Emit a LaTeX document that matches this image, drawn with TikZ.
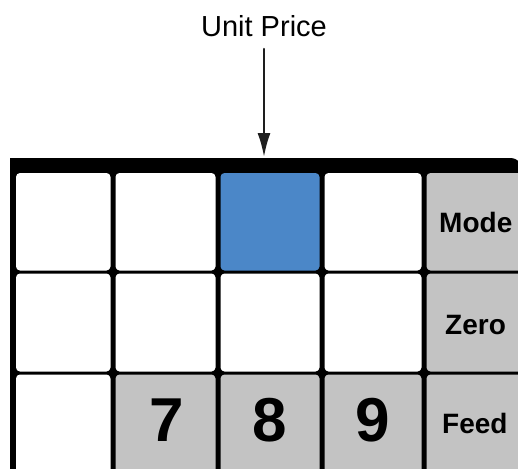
\documentclass[tikz,border=0pt]{standalone}
\usepackage{fontspec}
\setmainfont{Liberation Sans}
\usetikzlibrary{arrows.meta,positioning}
\definecolor{keyblue}{RGB}{75,135,200}
\definecolor{keygray}{RGB}{195,195,195}
\definecolor{arrowgray}{RGB}{30,30,30}
\tikzset{
  cell/.style={rectangle,fill=white,rounded corners=4pt,inner sep=0pt,outer sep=0pt},
  c13/.style={fill=keyblue},
  c15/.style={fill=keygray}, c25/.style={fill=keygray}, c35/.style={fill=keygray},
  c32/.style={fill=keygray}, c33/.style={fill=keygray}, c34/.style={fill=keygray},
  digit/.style={inner sep=0pt,font=\fontsize{62}{64}\selectfont\bfseries},
  keylabel/.style={inner sep=0pt,anchor=west,font=\fontsize{28}{30}\selectfont\bfseries},
  every picture/.style={line cap=round,line join=round}
}
\begin{document}
\begin{tikzpicture}[x=1pt,y=-1pt]
  \useasboundingbox (0,0) rectangle (518,468);
  % frame of the key pad
  \fill[black] (10,490) -- (10,158) {[rounded corners=14pt] -- (524,158) -- (524,490)} -- cycle;
  % keys
  \foreach \r/\ya/\yb in {1/173/270.5, 2/273.5/371.5, 3/374.5/490}{
    \foreach \c/\xa/\xb in {1/16/110.5, 2/115.5/215.5, 3/220.5/319.5, 4/324.5/421.5, 5/426.5/540}{
      \node[cell,c\r\c/.try,minimum width={(\xb-\xa)*1pt},minimum height={(\yb-\ya)*1pt}]
        (k\r\c) at ({(\xa+\xb)/2},{(\ya+\yb)/2}) {};
    }
  }
  % joints of the grid
  \foreach \x in {113,218,322,424}
    \foreach \y in {272,373}
      \fill (\x,\y) circle (4.5pt);
  % key texts
  \node[digit] (seven) at (167,420) {7};
  \node[digit] (eight) at (270,420) {8};
  \node[digit] (nine) at (373,420) {9};
  \node[keylabel] (mode) at (439,222) {Mode};
  \node[keylabel] (zero) at (445,325) {Zero};
  \node[keylabel] (feed) at (442,423) {Feed};
  % callout
  \node[inner sep=0pt,font=\fontsize{29}{31}\selectfont] (price) at (264,26) {Unit Price};
  \coordinate (tip) at (264,157);
  \draw[arrowgray,line width=2.2pt,shorten <=12pt,-{Latex[length=24pt,width=13pt]}] (price.south -| tip) -- (tip);
\end{tikzpicture}
\end{document}
